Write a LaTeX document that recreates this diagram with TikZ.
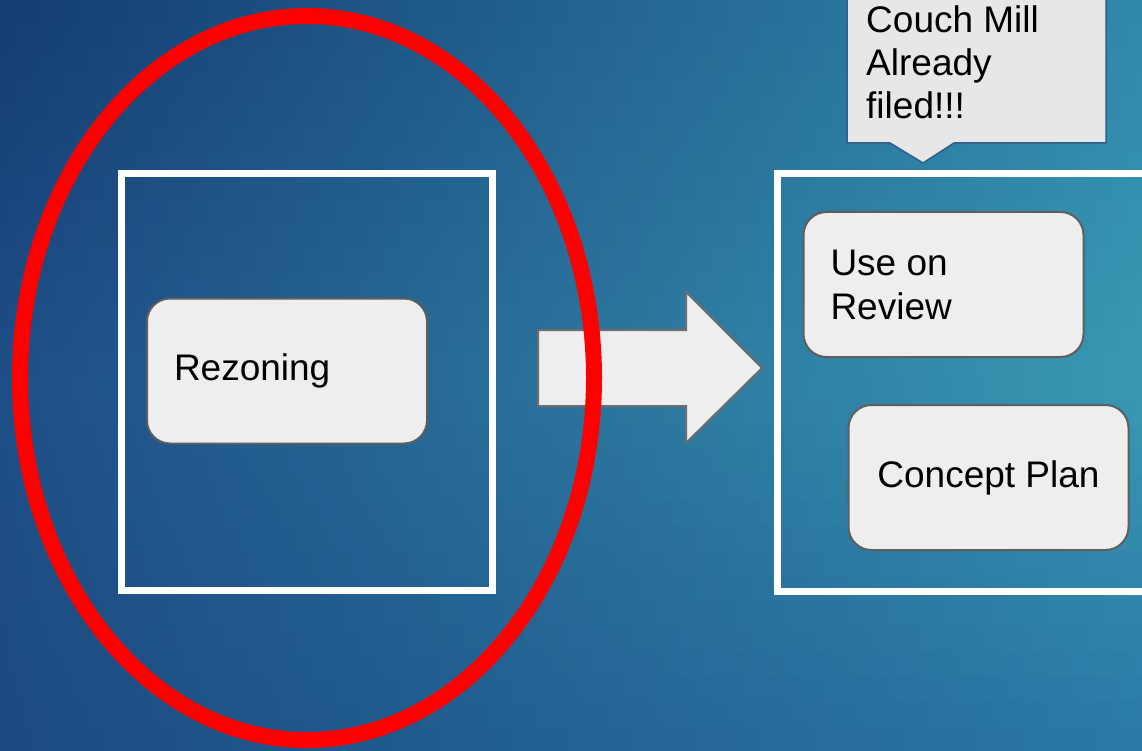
\documentclass[tikz,border=0pt]{standalone}
\usepackage{fontspec}
\setmainfont{Liberation Sans}
\definecolor{topL}{HTML}{143C72}
\definecolor{topM}{HTML}{1E5488}
\definecolor{topR}{HTML}{3088AB}
\definecolor{midL}{HTML}{1E4E86}
\definecolor{midM}{HTML}{276C9C}
\definecolor{midR}{HTML}{3899B3}
\definecolor{botL}{HTML}{1B4A80}
\definecolor{botM}{HTML}{24608F}
\definecolor{botR}{HTML}{2A78A6}
\definecolor{cardfill}{HTML}{EEEEEE}
\definecolor{cardborder}{HTML}{5E5E5E}
\definecolor{calloutborder}{HTML}{2D5E8C}
\definecolor{ringred}{HTML}{FF0000}
\begin{document}
\begin{tikzpicture}[x=1pt,y=-1pt,
  panel/.style={draw=white, line width=7pt},
  card/.style={draw=cardborder, fill=cardfill, line width=2pt, rounded corners=23pt,
    minimum width=280pt, minimum height=145pt, inner sep=0pt,
    font=\fontsize{37}{44}\selectfont, text width=226pt, align=flush left},
  bigarrow/.style={draw=cardborder!90, fill=cardfill, line width=2pt},
  callout/.style={draw=calloutborder, fill=cardfill!97!black, line width=1.5pt},
  calltext/.style={inner sep=0pt, align=flush left, font=\fontsize{37}{43}\selectfont},
  ring/.style={draw=ringred, line width=16pt}
]
\useasboundingbox (0,0) rectangle (1142,751);
\clip (0,0) rectangle (1142,751);
% background: strips of horizontal gradients
\foreach \i in {0,...,29}{
  \pgfmathsetmacro{\ya}{\i*25.04}
  \pgfmathsetmacro{\yb}{\i*25.04+26.5}
  \ifnum\i<15
    \pgfmathtruncatemacro{\p}{(\i+0.5)/15*100}
    \colorlet{sL}{midL!\p!topL}\colorlet{sM}{midM!\p!topM}\colorlet{sR}{midR!\p!topR}
  \else
    \pgfmathtruncatemacro{\p}{(\i-14.5)/15*100}
    \colorlet{sL}{botL!\p!midL}\colorlet{sM}{botM!\p!midM}\colorlet{sR}{botR!\p!midR}
  \fi
  \shade[left color=sL, middle color=sM, right color=sR] (0,\ya) rectangle (1142,\yb);
}
% white panels
\draw[panel] (121,174) rectangle (492,590);
\draw[panel] (777,174) rectangle (1160,591);
% cards
\node[card] (rezoning) at (287,371) {Rezoning};
\node[card] (useon) at (943.5,284.5) {Use on\\Review};
\node[card, align=flush center] (concept) at (988.5,477.5) {Concept Plan};
% block arrow
\draw[bigarrow] (538,330) -- (686,330) -- (686,292) -- (762,368) -- (686,443) -- (686,406) -- (538,406) -- cycle;
% callout
\draw[callout] (847,-10) -- (1106,-10) -- (1106,143) -- (954,143) -- (923,163) -- (890,143) -- (847,143) -- cycle;
\node[calltext, anchor=west] (callouttext) at (866,62) {Couch Mill\\Already\\filed!!!};
% red ellipse
\draw[ring] (307,378) ellipse [x radius=287, y radius=362];
\end{tikzpicture}
\end{document}
